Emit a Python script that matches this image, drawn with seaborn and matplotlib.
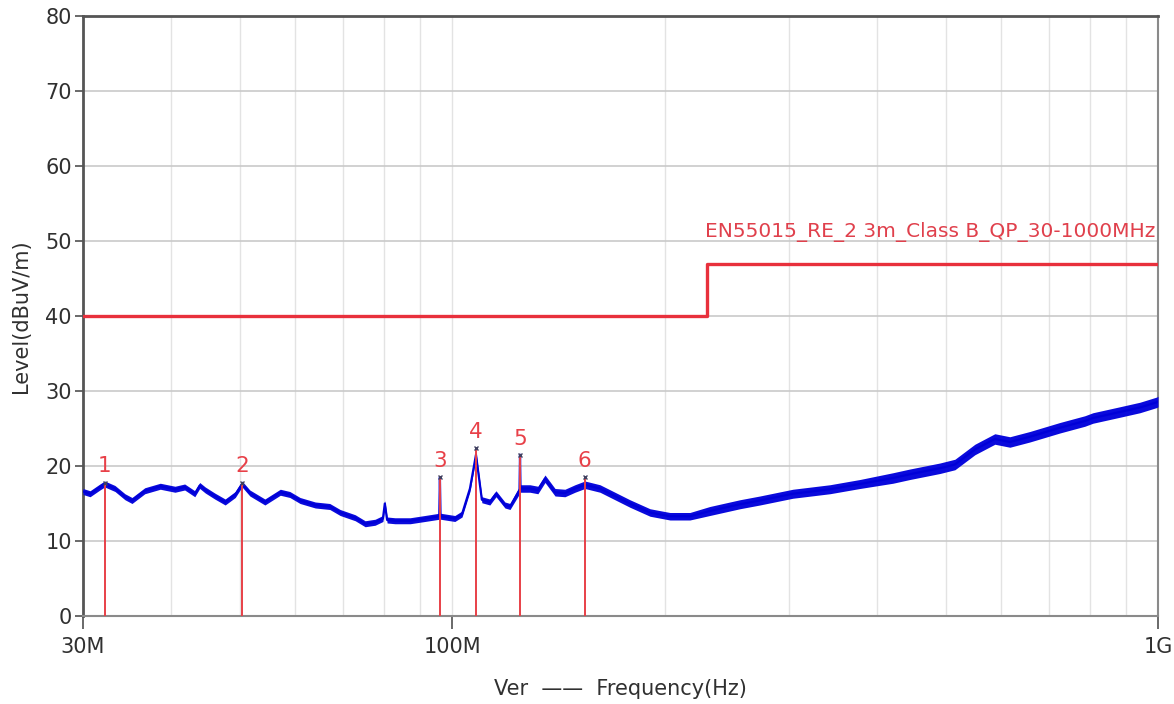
import numpy as np
import pandas as pd
import matplotlib
matplotlib.use("Agg")
import matplotlib.pyplot as plt
import seaborn as sns
from matplotlib.ticker import FixedLocator, NullFormatter

# ---- data ----
trace_freq_mhz = [30.0, 30.7, 31.7, 32.2, 33.3, 34.4, 35.2, 36.7, 38.6, 40.5, 41.8, 43.2, 43.9,
                  44.7, 46.1, 47.7, 49.3, 50.4, 51.7, 54.3, 57.1, 58.9, 60.9, 64.0, 67.1, 69.4,
                  72.9, 75.3, 77.8, 79.8, 80.3, 80.9, 83.0, 87.2, 91.5, 95.9, 96.1, 96.3, 100.9,
                  103.3, 106.0, 108.1, 110.2, 113.1, 115.4, 118.8, 120.8, 124.6, 124.8, 125.0,
                  128.9, 132.3, 135.4, 139.9, 144.5, 149.3, 154.2, 162.0, 170.1, 178.6, 190.7,
                  203.5, 217.2, 231.8, 255.7, 272.9, 303.9, 342.9, 378.2, 421.2, 445.2, 491.0,
                  515.6, 550.3, 587.3, 616.8, 658.3, 726.1, 787.8, 808.7, 883.2, 942.6, 996.3, 1000.0]
trace_level = [16.6, 16.3, 17.2, 17.6, 17.0, 15.9, 15.4, 16.7, 17.3, 16.9, 17.2, 16.3, 17.4,
               16.8, 16.0, 15.2, 16.2, 17.6, 16.4, 15.2, 16.5, 16.2, 15.4, 14.8, 14.6, 13.8,
               13.1, 12.3, 12.5, 13.0, 15.0, 12.8, 12.7, 12.7, 13.0, 13.3, 18.5, 13.3, 13.0,
               13.6, 17.0, 21.5, 15.5, 15.2, 16.3, 14.8, 14.6, 16.8, 21.5, 17.0,
               17.0, 16.8, 18.3, 16.5, 16.4, 17.0, 17.5, 17.0, 16.0, 15.0, 13.8,
               13.3, 13.3, 14.0, 14.9, 15.4, 16.3, 16.9, 17.6, 18.4, 18.9, 19.7,
               20.2, 22.2, 23.6, 23.2, 23.9, 25.1, 26.0, 26.4, 27.2, 27.8, 28.5, 28.6]
trace_spread = [0.4] * 47 + [0.5] * 16 + [0.6] * 6 + [0.7] * 15

limit_freq_mhz = [30.0, 230.0, 230.0, 1000.0]
limit_level = [40.0, 40.0, 47.0, 47.0]
limit_label = "EN55015_RE_2 3m_Class B_QP_30-1000MHz"

marker_ids = ["1", "2", "3", "4", "5", "6"]
marker_freq_mhz = [32.2, 50.4, 96.1, 108.1, 124.8, 154.2]
marker_level = [17.8, 17.8, 18.5, 22.4, 21.5, 18.5]

x_tick_vals = [30, 100, 1000]
x_tick_labels = ["30M", "100M", "1G"]
y_tick_vals = [0, 10, 20, 30, 40, 50, 60, 70, 80]

# ---- plot ----
sns.set_theme(style="white")
plt.rcParams["font.family"] = ["DejaVu Sans"]

fig = plt.figure(figsize=(11.74, 7.04), dpi=100)
ax = fig.add_axes([83 / 1174, 1 - 616 / 704, (1158 - 83) / 1174, (616 - 16) / 704])

tr = pd.DataFrame({"f": trace_freq_mhz, "lvl": trace_level, "s": trace_spread})
lim = pd.DataFrame({"f": limit_freq_mhz, "lvl": limit_level})

ax.set_xscale("log")
ax.set_xlim(30, 1000)
ax.set_ylim(0, 80)

# grid
minor_x = [40, 50, 60, 70, 80, 90, 100, 200, 300, 400, 500, 600, 700, 800, 900]
for v in minor_x:
    ax.axvline(v, color="#e3e3e3", lw=1.0, zorder=0)
for v in y_tick_vals:
    ax.axhline(v, color="#c9c9c9", lw=1.2, zorder=0)

# trace band + line
ax.fill_between(tr["f"], tr["lvl"] - tr["s"], tr["lvl"] + tr["s"], color="#0a0adc", lw=0, zorder=3)
sns.lineplot(data=tr, x="f", y="lvl", ax=ax, color="#0000d8", lw=1.6, sort=False,
             estimator=None, zorder=4)

# limit line
sns.lineplot(data=lim, x="f", y="lvl", ax=ax, color="#e8303c", lw=2.4, sort=False,
             estimator=None, zorder=5)
ax.text(992, 51.2, limit_label, color="#e0404c", fontsize=14.5, ha="right", va="center")

# markers
ax.vlines(marker_freq_mhz, 0, marker_level, color="#e84048", lw=1.4, zorder=6)
for mid, f, l in zip(marker_ids, marker_freq_mhz, marker_level):
    ax.plot([f], [l], marker="x", ms=3, color="#404060", mew=1, zorder=7)
    ax.text(f, l + 0.8, mid, color="#e84048", fontsize=15.5, ha="center", va="bottom", zorder=7)

# axes styling
ax.xaxis.set_major_locator(FixedLocator(x_tick_vals))
ax.xaxis.set_minor_locator(FixedLocator([]))
ax.xaxis.set_minor_formatter(NullFormatter())
ax.set_xticks(x_tick_vals)
ax.set_xticklabels(x_tick_labels)
ax.set_yticks(y_tick_vals)
ax.tick_params(axis="y", which="major", direction="out", length=6, width=1.2,
               color="#505050", labelsize=15, labelcolor="#303030", pad=2, left=True)
ax.tick_params(axis="x", which="major", direction="out", length=9, width=1.2,
               color="#505050", labelsize=15, labelcolor="#303030", pad=6, bottom=True)

for side in ["left", "top"]:
    ax.spines[side].set_color("#555555")
    ax.spines[side].set_linewidth(2.0)
for side in ["bottom", "right"]:
    ax.spines[side].set_color("#8a8a8a")
    ax.spines[side].set_linewidth(1.5)
for s in ax.spines.values():
    s.set_visible(True)

ax.set_ylabel("Level(dBuV/m)", fontsize=15, color="#303030", labelpad=10)
ax.set_xlabel("Ver  \u2014\u2014  Frequency(Hz)", fontsize=15, color="#303030", labelpad=16)

fig.savefig("out.png", dpi=100)
